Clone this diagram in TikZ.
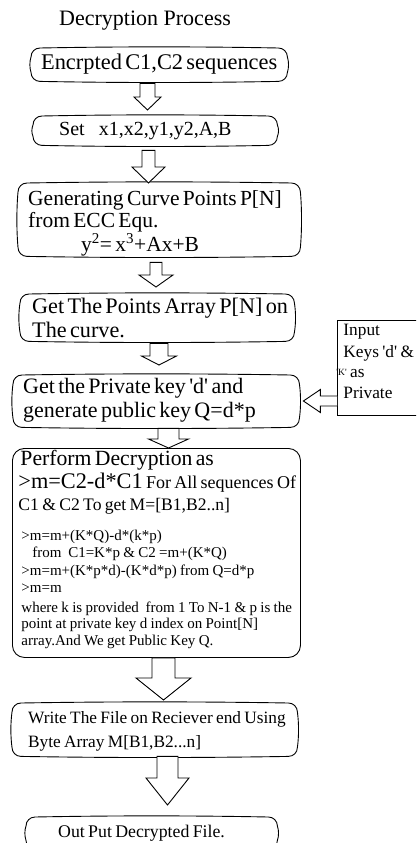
\documentclass[tikz,border=0pt]{standalone}
\usepackage{fontspec}
\setmainfont{Liberation Serif}
\usetikzlibrary{calc}
\newcommand{\sq}{\textquotesingle}
\newcommand{\fs}[2]{\fontsize{#1}{#2}\selectfont}
% stack of lines with exact baseline distances
\newcommand{\stk}[1]{\vtop{\baselineskip=0pt\lineskip=0pt\lineskiplimit=-\maxdimen\relax #1}}
\newcommand{\Nxt}[2]{\kern#1pt\hbox{#2}}
\tikzset{
  boxline/.style={line width=0.9pt, draw=black},
  txtbox/.style={anchor=north west, inner ysep=0pt, align=left},
  arrowline/.style={line width=0.9pt, draw=black, fill=white, line join=miter},
}
% bulging box outline around a named node
\newcommand{\bulgeframe}[1]{%
\draw[boxline] let \p1=(#1.north west), \p2=(#1.south east) in
 ({\x1+9pt},\y1)
 .. controls ({\x1+0.35*(\x2-\x1)},{\y1+1.5pt}) and ({\x2-0.35*(\x2-\x1)},{\y1+1.5pt}) .. ({\x2-9pt},\y1)
 .. controls ({\x2-4pt},\y1) and (\x2,{\y1-4pt}) .. (\x2,{\y1-9pt})
 .. controls ({\x2+1.5pt},{\y1-9pt-0.3*(\y1-\y2-18pt)}) and ({\x2+1.5pt},{\y2+9pt+0.3*(\y1-\y2-18pt)}) .. (\x2,{\y2+9pt})
 .. controls (\x2,{\y2+4pt}) and ({\x2-4pt},\y2) .. ({\x2-9pt},\y2)
 .. controls ({\x2-0.35*(\x2-\x1)},{\y2-1.5pt}) and ({\x1+0.35*(\x2-\x1)},{\y2-1.5pt}) .. ({\x1+9pt},\y2)
 .. controls ({\x1+4pt},\y2) and (\x1,{\y2+4pt}) .. (\x1,{\y2+9pt})
 .. controls ({\x1-1.5pt},{\y2+9pt+0.3*(\y1-\y2-18pt)}) and ({\x1-1.5pt},{\y1-9pt-0.3*(\y1-\y2-18pt)}) .. (\x1,{\y1-9pt})
 .. controls (\x1,{\y1-4pt}) and ({\x1+4pt},\y1) .. ({\x1+9pt},\y1) -- cycle;}
% hollow block arrow pointing down: from, to, cx, half shaft, half head, head length, top gap, tip gap
\newcommand{\blockdown}[8]{%
\draw[arrowline] let \p1=(#1.south), \p2=(#2.north) in
 ({#3pt-#4pt},{\y1-#7pt}) -- ({#3pt+#4pt},{\y1-#7pt}) -- ({#3pt+#4pt},{\y2+#8pt+#6pt})
 -- ({#3pt+#5pt},{\y2+#8pt+#6pt}) -- (#3pt,{\y2+#8pt}) -- ({#3pt-#5pt},{\y2+#8pt+#6pt})
 -- ({#3pt-#4pt},{\y2+#8pt+#6pt}) -- cycle;}
% hollow block arrow pointing left: from, to, cy, half shaft, half head, head length, tip gap
\newcommand{\blockleft}[7]{%
\draw[arrowline] let \p1=(#1.west), \p2=(#2.east) in
 (\x1,{-#3pt+#4pt}) -- ({\x2+#7pt+#6pt},{-#3pt+#4pt}) -- ({\x2+#7pt+#6pt},{-#3pt+#5pt})
 -- ({\x2+#7pt},-#3pt) -- ({\x2+#7pt+#6pt},{-#3pt-#5pt}) -- ({\x2+#7pt+#6pt},{-#3pt-#4pt}) -- (\x1,{-#3pt-#4pt});}

\begin{document}
\begin{tikzpicture}[x=1pt,y=-1pt]
\useasboundingbox (0,0) rectangle (416,843);
\clip (0,0) rectangle (416,843);
\fill[white] (0,0) rectangle (416,843);

\node[anchor=base west, inner sep=0pt, font=\fs{22}{24}] (title) at (59,26) {Decryption Process};

\node[txtbox, align=center, inner xsep=4pt, text width=248pt, text height=21pt, text depth=12pt] (b1) at (31,48)
 {\fs{22.4}{24}\mbox{Encrpted C1,C2 sequences}};

\node[txtbox, inner xsep=26pt, text width=192pt, text height=19pt, text depth=10pt] (b2) at (33,116)
 {\fs{20}{22}\mbox{Set\hspace{14pt}x1,x2,y1,y2,A,B}};

\node[txtbox, inner xsep=10pt, text width=262pt, text height=22pt, text depth=51pt] (b3) at (18,183)
 {\fs{21.5}{22}\stk{\hbox{Generating Curve Points P[N]}
  \Nxt{22}{from ECC Equ.}
  \Nxt{24}{\hspace*{53pt}y\textsuperscript{2}= x\textsuperscript{3}+Ax+B}}};

\node[txtbox, inner xsep=12pt, text width=250pt, text height=19pt, text depth=28pt] (b4) at (20,294)
 {\fs{22.2}{24}\stk{\hbox{Get The Points Array P[N] on}
  \Nxt{24}{The curve.}}};

\node[txtbox, inner xsep=10pt, text width=266pt, text height=18pt, text depth=34pt] (b5) at (13,375)
 {\fs{22}{24}\stk{\hbox{Get the Private key \sq d\sq\ and}
  \Nxt{24}{generate public key Q=d*p}}};

\node[txtbox, boxline, rounded corners=12pt, inner xsep=8pt, text width=272pt, text height=17pt, text depth=192pt] (b6) at (12,448)
 {\fs{15}{16}\stk{\hbox{\fs{21.7}{0}Perform Decryption as}
  \Nxt{23}{\hspace*{-2pt}\fs{22.3}{0}>m=C2-d*C1\fs{18}{0} For All sequences Of}
  \Nxt{22}{\hspace*{-2pt}\fs{17.6}{0}C1 \& C2 To get M=[B1,B2..n]}
  \Nxt{30}{\hspace*{1pt}>m=m+(K*Q)-d*(k*p)}
  \Nxt{17}{\hspace*{12pt}from\ \ C1=K*p \& C2 =m+(K*Q)}
  \Nxt{18}{\hspace*{1pt}>m=m+(K*p*d)-(K*d*p) from Q=d*p}
  \Nxt{17}{\hspace*{1pt}>m=m}
  \Nxt{20}{\hspace*{1pt}where k is provided\ \ from 1 To N-1 \& p is the}
  \Nxt{16}{\hspace*{1pt}point at private key d index on Point[N]}
  \Nxt{17}{\hspace*{1pt}array.And We get Public Key Q.}}};

\node[txtbox, inner xsep=16pt, text width=253pt, text height=20pt, text depth=33pt] (b7) at (12,703)
 {\fs{17.3}{24}\stk{\hbox{Write The File on Reciever end Using}
  \Nxt{24}{Byte Array M[B1,B2...n]}}};

\node[txtbox, inner xsep=32pt, text width=187pt, text height=20pt, text depth=12pt] (b8) at (26,817)
 {\fs{17.8}{20}\mbox{Out Put Decrypted File.}};

\node[txtbox, boxline, inner xsep=6pt, text width=78pt, text height=15pt, text depth=80pt] (inp) at (337,320)
 {\fs{17.3}{21}\stk{\hbox{Input}
  \Nxt{22}{Keys \sq d\sq\ \&}
  \Nxt{20}{\hspace*{-7pt}\raisebox{2pt}{\fs{9.5}{10}\sq K\sq}\ as}
  \Nxt{21}{Private}}};

\bulgeframe{b1}
\bulgeframe{b2}
\bulgeframe{b3}
\bulgeframe{b4}
\bulgeframe{b5}
\bulgeframe{b7}
\bulgeframe{b8}

\blockdown{b1}{b2}{147.5}{7.5}{13.5}{13}{2}{6}
\blockdown{b2}{b3}{148.5}{6.5}{16.5}{16}{5}{0}
\blockdown{b3}{b4}{156}{6}{17}{12}{6}{7}
\blockdown{b4}{b5}{159}{9}{17.5}{9}{2}{10}
\blockdown{b5}{b6}{168.5}{10.5}{20}{9}{1}{0}
\blockdown{b6}{b7}{163.5}{11.5}{27.5}{22}{0}{3}
\blockdown{b7}{b8}{167.5}{10.5}{21.5}{27}{0}{12}
\blockleft{inp}{b5}{401}{5}{11.5}{17}{4}
\end{tikzpicture}
\end{document}
